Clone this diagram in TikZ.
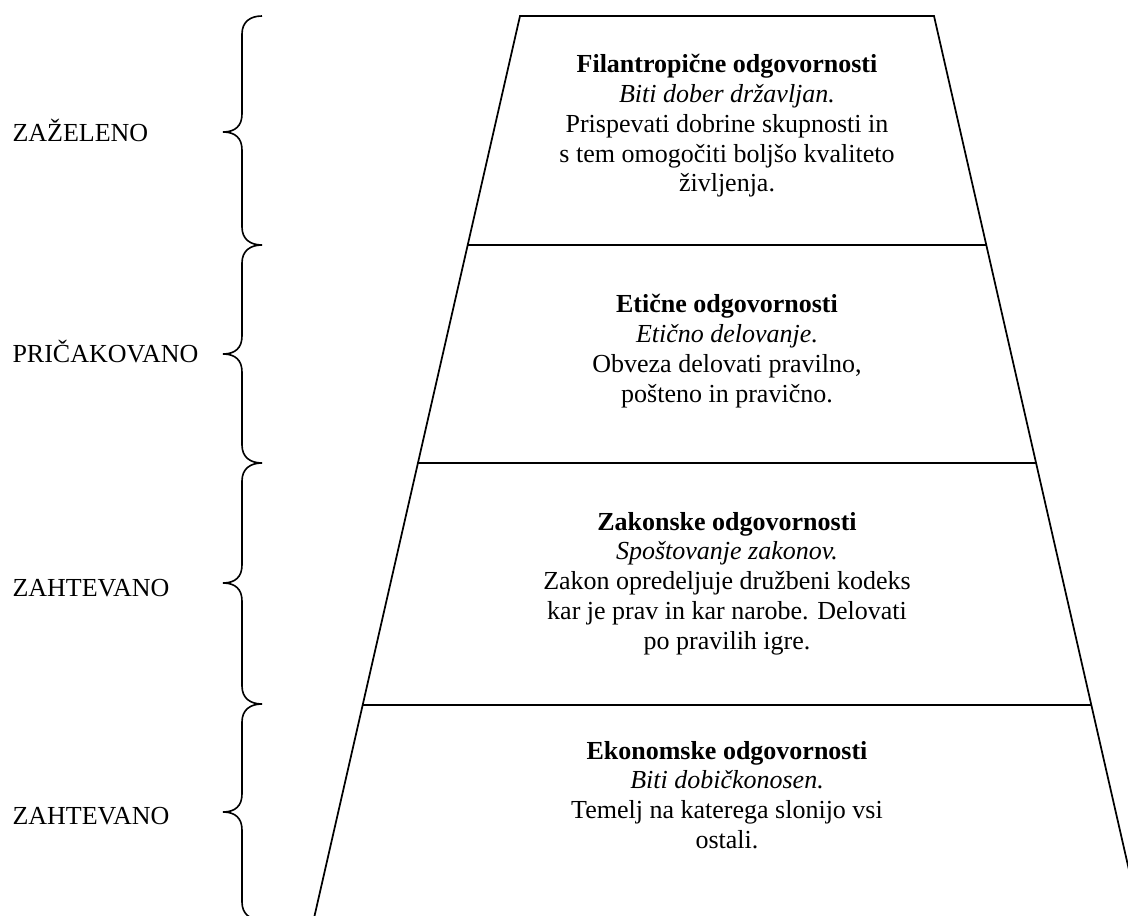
\documentclass[tikz,border=0pt]{standalone}
\usepackage{fontspec}
\setmainfont{Liberation Serif}

\tikzset{every picture/.style={line width=0.75pt}}
\tikzset{
  sideline/.style={line width=1.3pt},
  layerline/.style={line width=1.7pt},
  bracestroke/.style={line width=1.2pt},
  layertext/.style={anchor=base, inner sep=0pt, align=center},
  levellabel/.style={anchor=base west, inner sep=0pt}
}

\begin{document}
\begin{tikzpicture}[x=0.75pt,y=0.75pt,yscale=-1,xscale=1,font=\fontsize{19.5}{22.35}\selectfont]
	%set diagram frame: 1128 wide, 916 high
	\useasboundingbox (0,0) rectangle (1128,916);
	\clip (0,0) rectangle (1128,916);
	
	%Shape: Trapezoid sides
	\draw [sideline] (314.5,916) -- (520,16) -- (934,16) -- (1139.5,916) ;
	%Straight Lines [layer border 1]
	\draw [layerline] (467.7,245) -- (986.3,245) ;
	%Straight Lines [layer border 2]
	\draw [layerline] (417.9,463) -- (1036.1,463) ;
	%Straight Lines [layer border 3]
	\draw [layerline] (362.7,705) -- (1091.3,705) ;
	
	%Shape: Brace [zazeleno]
	\draw [bracestroke] (262,16) .. controls (250,16) and (242,22) .. (242,34) -- (242,114) .. controls (242,126) and (235,132) .. (223,132) .. controls (235,132) and (242,138) .. (242,150) -- (242,227) .. controls (242,239) and (250,245) .. (262,245) ;
	%Shape: Brace [pricakovano]
	\draw [bracestroke] (262,245) .. controls (250,245) and (242,251) .. (242,263) -- (242,336) .. controls (242,348) and (235,354) .. (223,354) .. controls (235,354) and (242,360) .. (242,372) -- (242,445) .. controls (242,457) and (250,463) .. (262,463) ;
	%Shape: Brace [zahtevano, zakonske]
	\draw [bracestroke] (262,463) .. controls (250,463) and (242,469) .. (242,481) -- (242,565) .. controls (242,577) and (235,583) .. (223,583) .. controls (235,583) and (242,589) .. (242,601) -- (242,686) .. controls (242,698) and (250,704) .. (262,704) ;
	%Shape: Brace [zahtevano, ekonomske]
	\draw [bracestroke] (262,704) .. controls (250,704) and (242,710) .. (242,722) -- (242,794) .. controls (242,806) and (235,812) .. (223,812) .. controls (235,812) and (242,818) .. (242,830) -- (242,902) .. controls (242,914) and (250,920) .. (262,920) ;
	
	% Text Node (anchored at the baseline of its last line)
	\draw (727,191.9) node [layertext] (filantropicne) {\textbf{Filantropične odgovornosti}\\\textit{Biti dober državljan.}\\Prispevati dobrine skupnosti in\\s tem omogočiti boljšo kvaliteto\\življenja.};
	% Text Node
	\draw (727,402.4) node [layertext] (eticne) {\textbf{Etične odgovornosti}\\\textit{Etično delovanje.}\\Obveza delovati pravilno,\\pošteno in pravično.};
	% Text Node
	\draw (727,649.2) node [layertext] (zakonske) {\textbf{Zakonske odgovornosti}\\\textit{Spoštovanje zakonov.}\\Zakon opredeljuje družbeni kodeks\\kar je prav in kar narobe. Delovati\\po pravilih igre.};
	% Text Node
	\draw (727,848.4) node [layertext] (ekonomske) {\textbf{Ekonomske odgovornosti}\\\textit{Biti dobičkonosen.}\\Temelj na katerega slonijo vsi\\ostali.};
	
	% Text Node
	\draw (12,141.7) node [levellabel] (zazeleno) {ZAŽELENO};
	% Text Node
	\draw (12,363) node [levellabel] (pricakovano) {PRIČAKOVANO};
	% Text Node
	\draw (12,596) node [levellabel] (zahtevanoA) {ZAHTEVANO};
	% Text Node
	\draw (12,824) node [levellabel] (zahtevanoB) {ZAHTEVANO};
	
\end{tikzpicture}
\end{document}
